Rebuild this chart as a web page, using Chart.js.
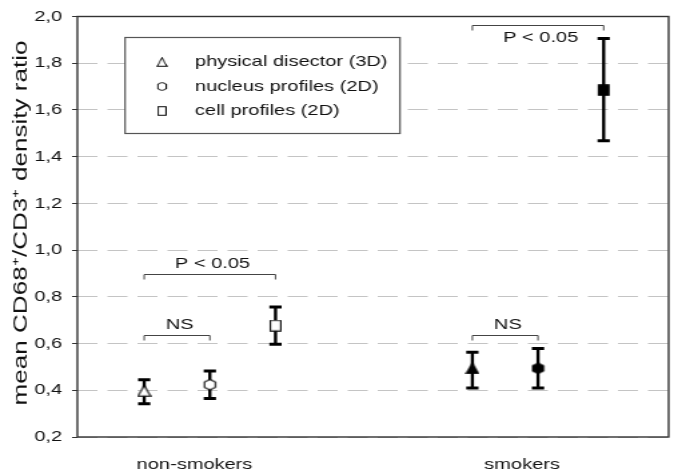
<!DOCTYPE html>
<html>
<head>
<meta charset="utf-8">
<script src="https://cdn.jsdelivr.net/npm/chart.js@4.4.1/dist/chart.umd.min.js"></script>
<style>
  html, body { margin: 0; padding: 0; background: #fff; }
</style>
</head>
<body>
<!-- the source figure is stretched sideways, so draw narrow and widen with css -->
<canvas id="chart" width="508" height="476" style="display:block;width:678px;height:476px"></canvas>
<script>
// values
const groups = ['non-smokers', 'smokers']
const methods = ['physical disector (3D)', 'nucleus profiles (2D)', 'cell profiles (2D)']
const disectorMean = [0.398, 0.494]
const disectorLow = [0.342, 0.410]
const disectorHigh = [0.445, 0.563]
const nucleusMean = [0.424, 0.494]
const nucleusLow = [0.365, 0.410]
const nucleusHigh = [0.482, 0.579]
const cellMean = [0.677, 1.685]
const cellLow = [0.597, 1.468]
const cellHigh = [0.757, 1.906]
const yTicks = [0.2, 0.4, 0.6, 0.8, 1.0, 1.2, 1.4, 1.6, 1.8, 2.0]
const yTitle = 'mean CD68⁺/CD3⁺ density ratio'

// significance brackets: group, first method, second method, height, text
const bracketGroup = [0, 0, 1, 1]
const bracketFrom = [0, 0, 0, 0]
const bracketTo = [1, 2, 1, 2]
const bracketLevel = [0.638, 0.898, 0.638, 1.962]
const bracketText = ['NS', 'P < 0.05', 'NS', 'P < 0.05']

// layout on the x axis (0..100)
const groupCenter = [22.4, 77.9]
const methodOffset = [-11.1, 0, 11.1]
const labelAt = [19.8, 75.2]

const FONT = '"Liberation Sans", Arial, sans-serif'
Chart.defaults.font.family = FONT
Chart.defaults.font.size = 15
Chart.defaults.color = '#111'

function marker(shape, filled) {
    const c = document.createElement('canvas')
    c.width = 11
    c.height = 12
    const g = c.getContext('2d')
    g.fillStyle = filled ? '#000' : '#fff'
    g.strokeStyle = '#000'
    g.lineWidth = 1.1
    g.beginPath()
    if (shape === 'triangle') {
        g.moveTo(5.5, 0.8); g.lineTo(10.2, 11.2); g.lineTo(0.8, 11.2); g.closePath()
    } else if (shape === 'hexagon') {
        g.moveTo(5.5, 0.8); g.lineTo(9.6, 3.4); g.lineTo(9.6, 8.6)
        g.lineTo(5.5, 11.2); g.lineTo(1.4, 8.6); g.lineTo(1.4, 3.4); g.closePath()
    } else {
        g.rect(1.6, 0.8, 7.8, 10.4)
    }
    g.fill()
    g.stroke()
    return c
}

const shapes = ['triangle', 'hexagon', 'square']
const means = [disectorMean, nucleusMean, cellMean]
const lows = [disectorLow, nucleusLow, cellLow]
const highs = [disectorHigh, nucleusHigh, cellHigh]

const datasets = methods.map((name, m) => ({
    label: name,
    data: groups.map((g, i) => ({ x: groupCenter[i] + methodOffset[m], y: means[m][i] })),
    low: lows[m],
    high: highs[m],
    pointStyle: [marker(shapes[m], false), marker(shapes[m], true)],
    pointRadius: 6,
    showLine: false
}))

const errorBars = {
    id: 'errorBars',
    beforeDatasetsDraw(chart) {
        const ctx = chart.ctx
        const xs = chart.scales.x, ys = chart.scales.y
        ctx.save()
        ctx.strokeStyle = '#000'
        chart.data.datasets.forEach(ds => {
            ds.data.forEach((p, i) => {
                const x = xs.getPixelForValue(p.x)
                const top = ys.getPixelForValue(ds.high[i])
                const bot = ys.getPixelForValue(ds.low[i])
                ctx.lineWidth = 2.4
                ctx.beginPath()
                ctx.moveTo(x, top); ctx.lineTo(x, bot)
                ctx.stroke()
                ctx.lineWidth = 3
                ctx.beginPath()
                ctx.moveTo(x - 4.6, top); ctx.lineTo(x + 4.6, top)
                ctx.moveTo(x - 4.6, bot); ctx.lineTo(x + 4.6, bot)
                ctx.stroke()
            })
        })
        ctx.restore()
    }
}

const frame = {
    id: 'frame',
    beforeDatasetsDraw(chart) {
        const { left, right, top, bottom } = chart.chartArea
        const ctx = chart.ctx
        ctx.save()
        ctx.strokeStyle = '#333'
        ctx.lineWidth = 1.4
        ctx.strokeRect(left, top, right - left, bottom - top)
        ctx.restore()
    }
}

// y title, drawn by hand because in the source it is drawn long and thin
const axisTitle = {
    id: 'axisTitle',
    afterDraw(chart) {
        const ctx = chart.ctx
        ctx.save()
        ctx.translate(16.5, 223)
        ctx.rotate(-Math.PI / 2)
        ctx.font = '14px ' + FONT
        ctx.fillStyle = '#111'
        ctx.textAlign = 'center'
        ctx.textBaseline = 'middle'
        const w = ctx.measureText(yTitle).width
        ctx.scale(365 / w, 1)
        ctx.fillText(yTitle, 0, 0)
        ctx.restore()
    }
}

const brackets = {
    id: 'brackets',
    afterDatasetsDraw(chart) {
        const ctx = chart.ctx
        const xs = chart.scales.x, ys = chart.scales.y
        ctx.save()
        ctx.strokeStyle = '#444'
        ctx.lineWidth = 1
        ctx.fillStyle = '#111'
        ctx.font = '15px ' + FONT
        ctx.textAlign = 'center'
        ctx.textBaseline = 'middle'
        bracketText.forEach((txt, k) => {
            const c = groupCenter[bracketGroup[k]]
            const x1 = xs.getPixelForValue(c + methodOffset[bracketFrom[k]])
            const x2 = xs.getPixelForValue(c + methodOffset[bracketTo[k]])
            const y = Math.round(ys.getPixelForValue(bracketLevel[k])) + 0.5
            ctx.beginPath()
            ctx.moveTo(x1, y + 5); ctx.lineTo(x1, y); ctx.lineTo(x2, y); ctx.lineTo(x2, y + 5)
            ctx.stroke()
            // the top bracket has no room above it, so its text sits under it
            const below = ys.getPixelForValue(bracketLevel[k]) - chart.chartArea.top < 20
            ctx.fillText(txt, (x1 + x2) / 2 + 2, below ? y + 12 : y - 11)
        })
        ctx.restore()
    }
}

const boxLegend = {
    id: 'boxLegend',
    afterDraw(chart) {
        const ctx = chart.ctx
        ctx.save()
        ctx.fillStyle = '#fff'
        ctx.fillRect(93.7, 37, 206, 96)
        ctx.strokeStyle = '#555'
        ctx.lineWidth = 1.2
        ctx.strokeRect(93.7, 37.5, 206, 96)
        ctx.font = '15px ' + FONT
        ctx.fillStyle = '#111'
        ctx.textBaseline = 'middle'
        const rows = [62, 86.5, 111]
        chart.data.datasets.forEach((ds, m) => {
            const img = ds.pointStyle[0]
            ctx.drawImage(img, 121.4 - 4.2, rows[m] - 4.8, 8.4, 9.6)
            ctx.fillText(ds.label, 146.1, rows[m])
        })
        ctx.restore()
    }
}

new Chart(document.getElementById('chart'), {
    type: 'scatter',
    data: { datasets: datasets },
    options: {
        responsive: false,
        animation: false,
        layout: { padding: { top: 14, right: 6, left: 0, bottom: 0 } },
        plugins: { legend: { display: false }, tooltip: { enabled: false } },
        scales: {
            x: {
                type: 'linear',
                min: 0,
                max: 100,
                afterFit: s => { s.height = 39 },
                afterBuildTicks: s => { s.ticks = labelAt.map(v => ({ value: v })) },
                ticks: {
                    autoSkip: false,
                    maxRotation: 0,
                    padding: 19,
                    callback: (v, i) => groups[i]
                },
                grid: { display: false, drawTicks: false },
                border: { display: false }
            },
            y: {
                min: 0.2,
                max: 2.0,
                afterFit: s => { s.width = 58 },
                afterBuildTicks: s => { s.ticks = yTicks.map(v => ({ value: v })) },
                ticks: {
                    padding: 7.5,
                    callback: v => v.toFixed(1).replace('.', ',')
                },
                grid: { color: '#c4c4c4', lineWidth: 1, tickLength: 4, tickColor: '#333' },
                border: { display: false, dash: [15, 7.5] }
            }
        }
    },
    plugins: [frame, errorBars, brackets, boxLegend, axisTitle]
})
</script>
</body>
</html>
